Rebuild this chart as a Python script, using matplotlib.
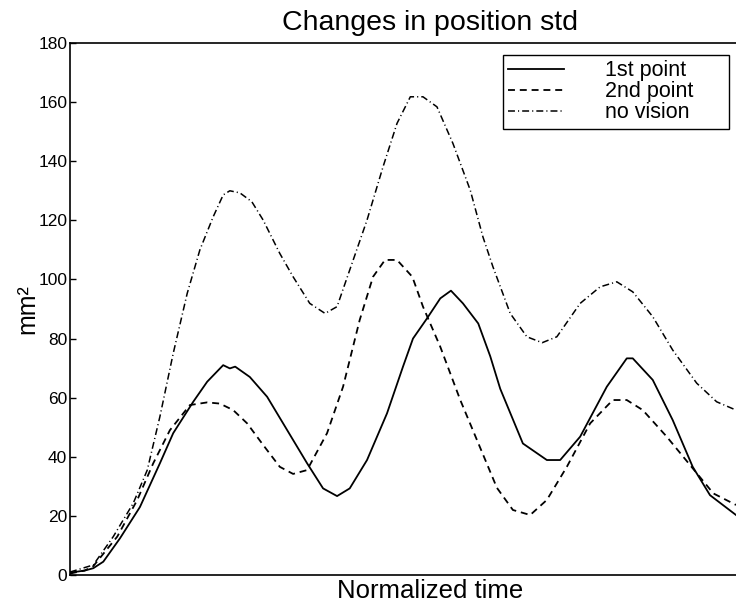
import matplotlib
matplotlib.use('Agg')
import matplotlib.pyplot as plt

plt.rcParams['font.family'] = ['Liberation Sans', 'DejaVu Sans']
plt.rcParams['lines.scale_dashes'] = False

# normalized time and std values (mm^2)
t_first = [0, .022, .035, .050, .075, .105, .135, .155, .185, .206, .230, .240,
           .248, .270, .296, .320, .356, .380, .401, .420, .446, .476, .500, .515,
           .536, .556, .572, .590, .613, .631, .646, .680, .716, .736, .766, .806,
           .836, .845, .875, .905, .935, .961, 1.0]
first_point = [0.8, 1.5, 2.3, 4.5, 12.4, 23, 37.8, 48, 58.6, 65.4, 71, 69.9,
               70.5, 67, 60.3, 51.3, 37.8, 29.3, 26.7, 29.3, 38.9, 54.7, 70.5, 80,
               86.8, 93.6, 96.2, 91.9, 85.1, 74, 63, 44.5, 38.9, 38.9, 46.8, 63.7,
               73.3, 73.3, 66, 52.4, 36.6, 27, 20.3]

t_second = [0, .022, .035, .071, .101, .125, .150, .180, .206, .225, .245, .266,
            .290, .315, .335, .356, .386, .410, .435, .455, .473, .491, .514, .530,
            .556, .586, .616, .641, .665, .691, .716, .746, .781, .815, .836, .860,
            .896, .931, .966, 1.0]
second_point = [0.5, 1.5, 3, 13, 25.4, 37.8, 49, 57.5, 58.4, 58, 55.8, 51.3,
                44, 36.6, 34.2, 35.5, 48, 63.7, 86.3, 100.9, 106.6, 106.6, 100.9, 90.8,
                77.2, 59.2, 43, 29.5, 22, 20.3, 25.4, 36.6, 51.3, 59.2, 59.2, 55.8,
                46.8, 37.2, 27.6, 23.7]

t_novis = [0, .035, .065, .095, .116, .135, .155, .176, .195, .215, .230, .240,
           .255, .273, .290, .315, .335, .360, .383, .401, .420, .446, .470, .491,
           .511, .530, .551, .575, .601, .620, .635, .661, .686, .709, .731, .766,
           .796, .821, .845, .875, .905, .941, .971, 1.0]
no_vision = [1, 3.4, 13, 24.3, 35.5, 53.6, 75, 95.3, 110, 121.2, 128.6, 130,
             129.3, 126.3, 120.1, 108.8, 100.9, 91.9, 88.5, 90.8, 103.2, 120.1, 138.1, 152.8,
             161.8, 161.8, 158.4, 146, 130.2, 114.4, 104.3, 88.5, 80.6, 78.6, 80.6, 91.9,
             97.5, 99.2, 95.8, 87.4, 76.1, 64.9, 58.6, 55.8]

y_ticks = [0, 20, 40, 60, 80, 100, 120, 140, 160, 180]

fig = plt.figure(figsize=(7.36, 6.02), dpi=100)
# the original axes runs on past the right edge of the picture (cropped scan)
ax = fig.add_axes([70 / 736, 27 / 602, 720 / 736, 532 / 602])

ax.plot(t_first, first_point, color='black', lw=1.3, label='1st point')
ax.plot(t_second, second_point, color='black', lw=1.3, dashes=(5, 3.5),
        label='2nd point')
ax.plot(t_novis, no_vision, color='black', lw=1.1, dashes=(5, 2.2, 0.8, 2.2),
        label='no vision')

ax.set_xlim(0, 720 / 666)
ax.set_ylim(0, 180)
ax.set_xticks([])
ax.set_yticks(y_ticks)
ax.tick_params(axis='y', direction='in', length=4, width=1, labelsize=12.5, pad=2)
ax.spines['right'].set_visible(False)
for s in ['left', 'bottom', 'top']:
    ax.spines[s].set_linewidth(1.2)

ax.set_title('Changes in position std', fontsize=20.5, pad=9)
ax.set_xlabel('Normalized time', fontsize=18.5, labelpad=3)
ax.set_ylabel('mm²', fontsize=18, labelpad=-1)

leg = ax.legend(loc='upper left', mode='expand',
                bbox_to_anchor=(503 / 736, 1 - 123 / 602, 226 / 736, 68 / 602),
                bbox_transform=fig.transFigure, borderaxespad=0,
                fontsize=15.5, labelspacing=0.0, handlelength=2.6,
                handletextpad=1.9, borderpad=0.25, fancybox=False,
                framealpha=1, edgecolor='black')
leg.get_frame().set_linewidth(1.0)

plt.savefig('out.png', dpi=100)
